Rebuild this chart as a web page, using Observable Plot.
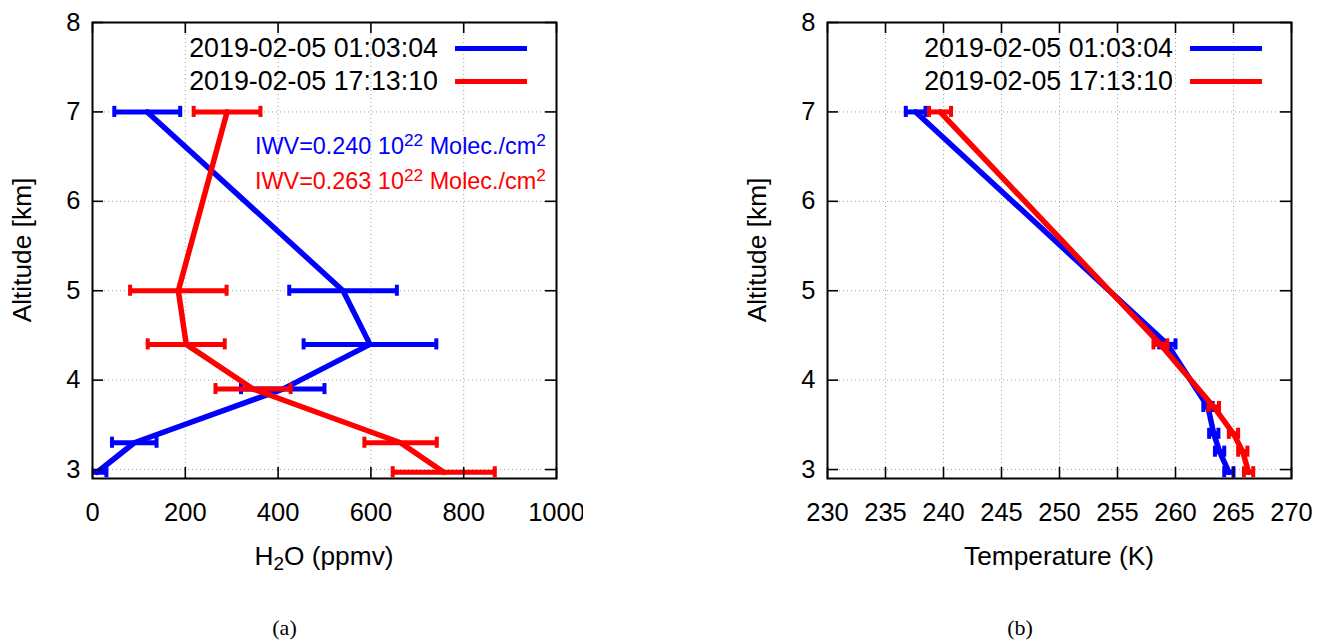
<!DOCTYPE html>
<html><head><meta charset="utf-8">
<script src="https://cdn.jsdelivr.net/npm/d3@7"></script>
<script src="https://cdn.jsdelivr.net/npm/@observablehq/plot@0.6"></script>
<style>
body{margin:0;background:#fff;}
#wrap{position:relative;width:1320px;height:641px;overflow:hidden;font-family:"Liberation Sans",Arial,sans-serif;background:#fff;}
#wrap svg{position:absolute;top:0;}
.lbl{position:absolute;white-space:nowrap;line-height:1;color:#000;}
.sub{font-size:0.72em;position:relative;top:0.28em;}
.sup{font-size:0.74em;position:relative;top:-0.45em;}
.leg{position:absolute;height:5px;}
</style></head><body><div id="wrap"></div>
<script>
// ---- data ----
const h2oAlt = [7.0, 5.0, 4.4, 3.9, 3.3, 2.97];
const h2oBlue = [118, 540, 598, 410, 90, 10];
const h2oBlueErr = [71, 116, 143, 90, 48, 20];
const h2oRed = [290, 185, 202, 346, 664, 757];
const h2oRedErr = [72, 104, 83, 81, 78, 110];

const tAlt = [7.0, 4.4, 3.7, 3.4, 3.2, 2.97];
const tBlue = [237.6, 259.3, 262.8, 263.3, 263.8, 264.6];
const tBlueErr = [0.85, 0.7, 0.4, 0.4, 0.4, 0.4];
const tRed = [239.7, 258.7, 263.3, 265.0, 265.8, 266.3];
const tRedErr = [0.95, 0.6, 0.45, 0.4, 0.4, 0.4];

const seriesNames = ["2019-02-05 01:03:04", "2019-02-05 17:13:10"];
const seriesColors = ["#0000ff", "#ff0000"];
const iwvValues = ["0.240", "0.263"];

const h2oTicks = [0, 200, 400, 600, 800, 1000];
const tTicks = [230, 235, 240, 245, 250, 255, 260, 265, 270];
const altTicks = [3, 4, 5, 6, 7, 8];
const altDomain = [2.9, 8];

// ---- helpers ----
const wrap = document.getElementById("wrap");
const FONT = '"Liberation Sans", Arial, sans-serif';
const PW = 464, PH = 456, MT = 22;

function rows(alt, v, e) { return alt.map((a, i) => ({alt: a, v: v[i], e: e[i]})); }

function panel({xDomain, xTicks, series, left, marginLeft, width}) {
  const cap = 0.062;
  const marks = [
    Plot.ruleX(xTicks, {x: d => d, stroke: "#a0a0a0", strokeWidth: 1, strokeDasharray: "1,3"}),
    Plot.ruleY(altTicks, {y: d => d, stroke: "#a0a0a0", strokeWidth: 1, strokeDasharray: "1,3"})
  ];
  series.forEach((s, i) => {
    const c = seriesColors[i];
    marks.push(Plot.ruleY(s, {y: "alt", x1: d => d.v - d.e, x2: d => d.v + d.e, stroke: c, strokeWidth: 5, clip: true}));
    marks.push(Plot.ruleX(s, {x: d => d.v - d.e, y1: d => d.alt - cap, y2: d => d.alt + cap, stroke: c, strokeWidth: 4, clip: true}));
    marks.push(Plot.ruleX(s, {x: d => d.v + d.e, y1: d => d.alt - cap, y2: d => d.alt + cap, stroke: c, strokeWidth: 4, clip: true}));
    marks.push(Plot.line(s, {x: "v", y: "alt", stroke: c, strokeWidth: 5.5, strokeLinejoin: "miter", clip: true}));
  });
  marks.push(
    Plot.tickX(xTicks, {x: d => d, insetTop: PH - 11, stroke: "#000", strokeWidth: 1.6}),
    Plot.tickX(xTicks, {x: d => d, insetBottom: PH - 11, stroke: "#000", strokeWidth: 1.6}),
    Plot.tickY(altTicks, {y: d => d, insetRight: PW - 11, stroke: "#000", strokeWidth: 1.6}),
    Plot.tickY(altTicks, {y: d => d, insetLeft: PW - 11, stroke: "#000", strokeWidth: 1.6}),
    Plot.frame({stroke: "#000", strokeWidth: 2})
  );
  const svg = Plot.plot({
    width, height: 641,
    marginLeft, marginRight: width - marginLeft - PW, marginTop: MT, marginBottom: 641 - MT - PH,
    style: {fontSize: "25.5px", fontFamily: FONT, color: "#000", background: "transparent", overflow: "hidden"},
    x: {domain: xDomain, ticks: xTicks, tickFormat: d => String(d), tickSize: 0, tickPadding: 24, label: null},
    y: {domain: altDomain, ticks: altTicks, tickFormat: d => String(d), tickSize: 0, tickPadding: 12, label: null},
    marks
  });
  svg.style.left = left + "px";
  wrap.appendChild(svg);
}

function label(html, x, baseline, {anchor = "start", size = 26, color = "#000", family = FONT} = {}) {
  const d = document.createElement("div");
  d.className = "lbl";
  d.innerHTML = html;
  d.style.fontSize = size + "px";
  d.style.fontFamily = family;
  d.style.color = color;
  d.style.left = x + "px";
  d.style.top = (baseline - 0.8465 * size) + "px";
  const tx = anchor === "middle" ? "-50%" : anchor === "end" ? "-100%" : "0";
  d.style.transform = `translateX(${tx})`;
  wrap.appendChild(d);
}

function vlabel(text, cx, cy) {
  const d = document.createElement("div");
  d.className = "lbl";
  d.textContent = text;
  d.style.fontSize = "26.3px";
  d.style.left = cx + "px";
  d.style.top = cy + "px";
  d.style.transform = "translate(-50%,-50%) rotate(-90deg)";
  wrap.appendChild(d);
}

function legend(plotRight) {
  seriesNames.forEach((n, i) => {
    const base = 58 + 33 * i;
    label(n, plotRight - 118, base, {anchor: "end", size: 26.8});
    const l = document.createElement("div");
    l.className = "leg";
    l.style.background = seriesColors[i];
    l.style.left = (plotRight - 101) + "px";
    l.style.width = "72px";
    l.style.top = (base - 12.5) + "px";
    wrap.appendChild(l);
  });
}

// ---- panel (a) ----
panel({
  xDomain: [0, 1000], xTicks: h2oTicks,
  series: [rows(h2oAlt, h2oBlue, h2oBlueErr), rows(h2oAlt, h2oRed, h2oRedErr)],
  left: 0, marginLeft: 92, width: 583
});
// ---- panel (b) ----
panel({
  xDomain: [230, 270], xTicks: tTicks,
  series: [rows(tAlt, tBlue, tBlueErr), rows(tAlt, tRed, tRedErr)],
  left: 700, marginLeft: 127, width: 620
});

vlabel("Altitude [km]", 21.5, 250);
vlabel("Altitude [km]", 756.5, 250);
label('H<span class="sub">2</span>O (ppmv)', 324, 565, {anchor: "middle", size: 26.3});
label("Temperature (K)", 1059, 565, {anchor: "middle", size: 26.3});
label("(a)", 284.5, 636, {anchor: "middle", size: 22, family: '"Liberation Serif", "Times New Roman", serif'});
label("(b)", 1020, 636, {anchor: "middle", size: 22, family: '"Liberation Serif", "Times New Roman", serif'});
legend(556);
legend(1291);
iwvValues.forEach((v, i) => {
  label(`IWV=${v} 10<span class="sup">22</span> Molec./cm<span class="sup">2</span>`, 255, 155 + 35 * i, {size: 23.4, color: seriesColors[i]});
});
</script></body></html>
